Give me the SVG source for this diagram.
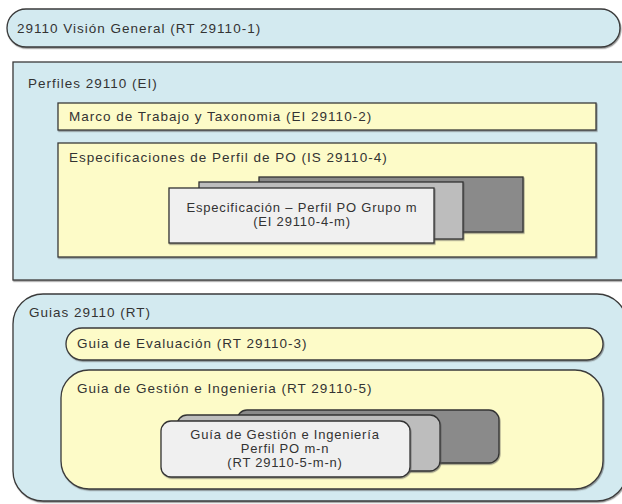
<svg xmlns="http://www.w3.org/2000/svg" width="622" height="504" viewBox="0 0 622 504">
<defs>
  <filter id="sh" x="-5%" y="-10%" width="110%" height="130%">
    <feDropShadow dx="0.8" dy="1.2" stdDeviation="0.6" flood-color="#555" flood-opacity="0.6"/>
  </filter>
</defs>
<style>
  .blue{fill:#d3eaf0;stroke:#3a3a3a;stroke-width:1.3;filter:url(#sh)}
  .yel{fill:#fdfbc8;stroke:#3a3a3a;stroke-width:1.3;filter:url(#sh)}
  .dk{fill:#8a8a8a;stroke:#333;stroke-width:1.3;filter:url(#sh)}
  .md{fill:#bdbdbd;stroke:#333;stroke-width:1.3;filter:url(#sh)}
  .lt{fill:#f0f0f0;stroke:#333;stroke-width:1.3;filter:url(#sh)}
  text{font-family:"Liberation Sans",Arial,sans-serif;font-size:13.5px;letter-spacing:1px;fill:#333}
  .s{font-size:13px;letter-spacing:0.8px}
  .c{text-anchor:middle}
</style>
<rect width="622" height="504" fill="#ffffff"/>
<g id="vision">
  <rect class="blue" x="7" y="9" width="613" height="38" rx="19"/>
  <text x="17" y="33">29110 Visión General (RT 29110-1)</text>
</g>
<g id="perfiles">
  <rect class="blue" x="13" y="62" width="616" height="218"/>
  <text x="28" y="88">Perfiles 29110 (EI)</text>
</g>
<g id="marco">
  <rect class="yel" x="58" y="103" width="538" height="27"/>
  <text x="69" y="121">Marco de Trabajo y Taxonomia (EI 29110-2)</text>
</g>
<g id="especificaciones">
  <rect class="yel" x="58" y="143" width="538" height="114"/>
  <text x="69" y="162">Especificaciones de Perfil de PO (IS 29110-4)</text>
</g>
<g id="perfil-grupo-m">
  <rect class="dk" x="259" y="177" width="264" height="55"/>
  <rect class="md" x="199" y="182" width="264" height="57"/>
  <rect class="lt" x="169" y="188" width="265" height="55"/>
  <text class="c s" x="302" y="212">Especificación – Perfil PO Grupo m</text>
  <text class="c s" x="302" y="226">(EI 29110-4-m)</text>
</g>
<g id="guias">
  <rect class="blue" x="13" y="294" width="614" height="207" rx="30"/>
  <text x="29" y="317">Guias 29110 (RT)</text>
</g>
<g id="evaluacion">
  <rect class="yel" x="66" y="328" width="537" height="32" rx="16"/>
  <text x="77" y="348">Guia de Evaluación (RT 29110-3)</text>
</g>
<g id="gestion">
  <rect class="yel" x="61" y="370" width="542" height="119" rx="28"/>
  <text x="77" y="393">Guia de Gestión e Ingenieria (RT 29110-5)</text>
</g>
<g id="perfil-po-m-n">
  <rect class="dk" x="237" y="410" width="262" height="53" rx="10"/>
  <rect class="md" x="177" y="415" width="263" height="56" rx="10"/>
  <rect class="lt" x="161" y="421" width="249" height="56" rx="10"/>
  <text class="c s" x="285" y="439">Guía de Gestión e Ingeniería</text>
  <text class="c s" x="285" y="453">Perfil PO m-n</text>
  <text class="c s" x="285" y="467">(RT 29110-5-m-n)</text>
</g>
<g id="connectors"></g>
</svg>
